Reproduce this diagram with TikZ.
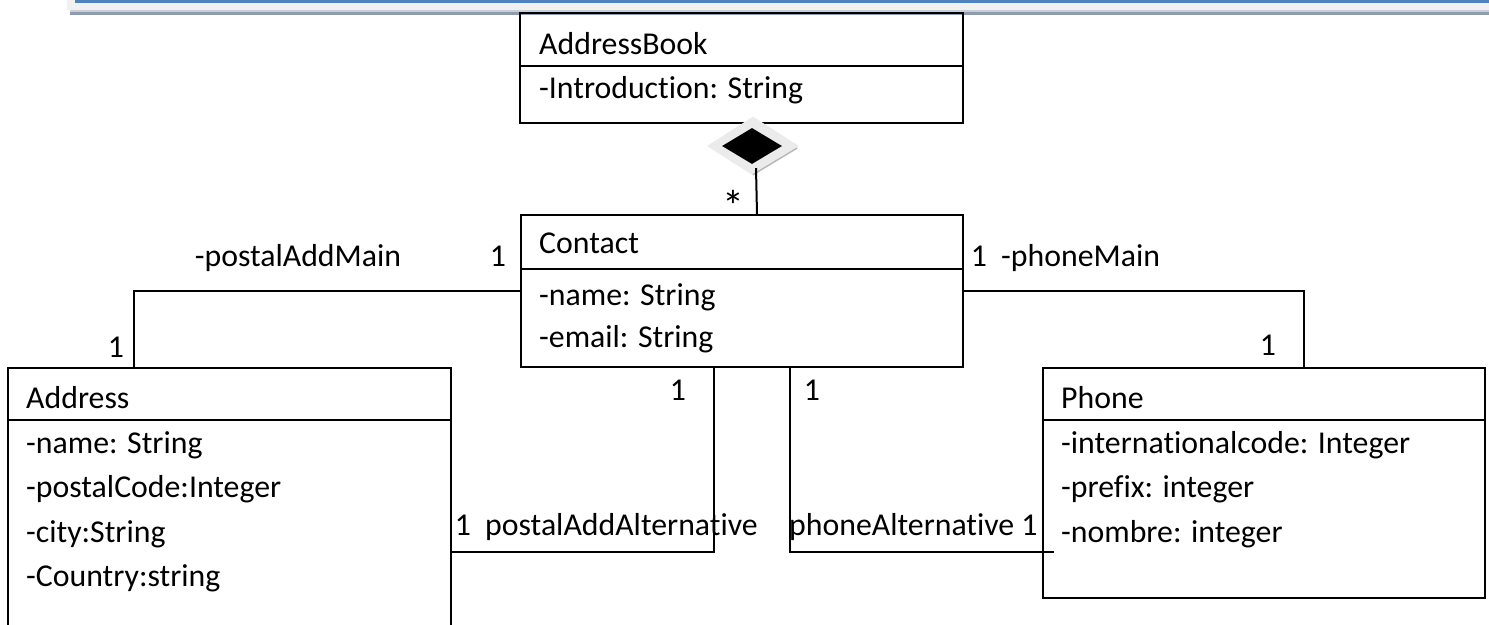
\documentclass[tikz,border=0pt]{standalone}
\usepackage{fontspec}
\setmainfont{Carlito}[Ligatures={NoCommon}]
\usetikzlibrary{shapes.geometric,calc}
\definecolor{barblue}{HTML}{4F81BD}
\definecolor{bargray}{HTML}{8E9BB0}
\definecolor{barlight}{HTML}{C8CFD9}
\definecolor{topgray}{HTML}{F1F1F1}
\begin{document}
\begin{tikzpicture}[x=1pt,y=-1pt,
  box/.style={draw=black,line width=2,rectangle,inner sep=0,anchor=north west},
  txt/.style={inner sep=0,anchor=base west,font=\fontsize{31.8}{38}\selectfont},
  lbl/.style={inner sep=0,font=\fontsize{31.8}{38}\selectfont},
  conn/.style={draw=black,line width=2}]
\useasboundingbox (0,0) rectangle (1489,624);
\fill[white] (0,0) rectangle (1489,624);
% top bar
\fill[topgray] (67,0) rectangle (1489,10);
\fill[barblue] (75,0) rectangle (1489,2.5);
\fill[bargray] (70,10) rectangle (1489,15);
\fill[barlight] (70,10) rectangle (1489,11.5);

% AddressBook
\node[box,minimum width=443,minimum height=110] (ab) at (519,12) {};
\draw[conn] ($(ab.north west)+(0,54)$) -- ($(ab.north east)+(0,54)$);
\node[txt] (abname) at (539,54) {AddressBook};
\node[txt] (abattr) at (539,98) {-Introduction: String};

% Contact
\node[box,minimum width=442,minimum height=152] (ct) at (520,214) {};
\draw[conn] ($(ct.north west)+(0,55)$) -- ($(ct.north east)+(0,55)$);
\node[txt] (ctname) at (539,253) {Contact};
\node[txt] (cta1) at (539,305) {-name: String};
\node[txt] (cta2) at (539,347) {-email: String};

% Address
\node[box,minimum width=443,minimum height=275] (addr) at (7,367) {};
\draw[conn] ($(addr.north west)+(0,53)$) -- ($(addr.north east)+(0,53)$);
\node[txt] (adname) at (26,408) {Address};
\node[txt] (ada1) at (26,453) {-name: String};
\node[txt] (ada2) at (26,497) {-postalCode:Integer};
\node[txt] (ada3) at (26,542) {-city:String};
\node[txt] (ada4) at (26,586) {-Country:string};

% Phone
\node[box,minimum width=442,minimum height=230] (ph) at (1042,367) {};
\draw[conn] ($(ph.north west)+(0,53)$) -- ($(ph.north east)+(0,53)$);
\node[txt] (phname) at (1061,408) {Phone};
\node[txt] (pha1) at (1061,453) {-internationalcode: Integer};
\node[txt] (pha2) at (1061,497) {-prefix: integer};
\node[txt] (pha3) at (1061,542) {-nombre: integer};

% connectors
\draw[conn] (ct.west) -| ($(addr.north west)+(127,0)$);
\draw[conn] (ct.east) -| ($(ph.north west)+(262,0)$);
\draw[conn] ($(ct.south west)+(194,0)$) |- ($(addr.north east)+(0,185)$);
\draw[conn] ($(ct.south west)+(270,0)$) |- ($(ph.north west)+(12,185)$);

% composition diamond
\node[diamond,fill=gray!16,minimum width=92,minimum height=59,inner sep=0] (dsh) at (753,146) {};
\draw[gray!55,line width=1.5] ($(dsh.east)+(-2,2)$) -- ($(dsh.south)+(0,-1)$);
\node[diamond,fill=black,minimum width=60,minimum height=36,inner sep=0] (dia) at (752,146) {};
\draw[conn] ($(ct.north)+(15,0)$) -- ($(dia.south)+(4,4)$);

% labels
\node[lbl,anchor=base] (l1) at (298,266) {-postalAddMain};
\node[lbl] (l2) at (498,256) {1};
\node[lbl] (l3) at (116,347) {1};
\node[lbl] (l4) at (979,256) {1};
\node[lbl,anchor=base west] (l5) at (1001,266) {-phoneMain};
\node[lbl] (l6) at (1268,345) {1};
\node[lbl] (l7) at (678,390) {1};
\node[lbl] (l8) at (812,390) {1};
\node[lbl] (l9) at (463,525) {1};
\node[lbl,anchor=base west] (l10) at (485,535) {postalAddAlternative};
\node[lbl,anchor=base west] (l11) at (789,535) {phoneAlternative 1};
\node[inner sep=0,font=\fontsize{44}{44}\selectfont] (star) at (733,206) {*};
\end{tikzpicture}
\end{document}
